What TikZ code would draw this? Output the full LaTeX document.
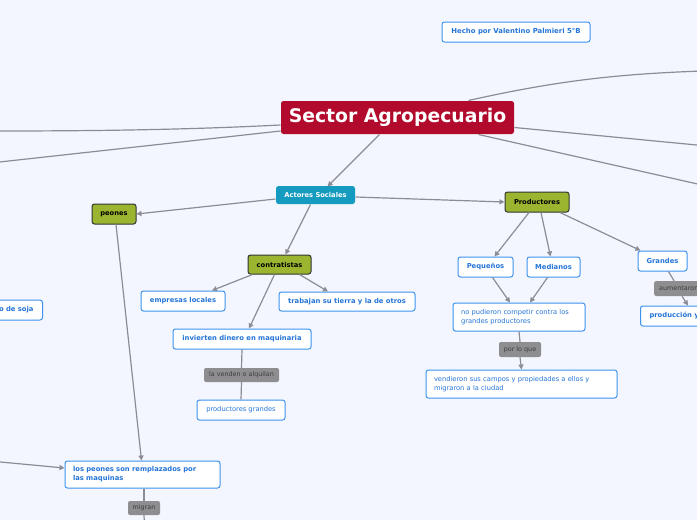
\documentclass[tikz,border=0pt]{standalone}
\usepackage{fontspec}
\setmainfont{DejaVu Sans}
\usetikzlibrary{arrows.meta}
\definecolor{bg}{HTML}{F3F6FE}
\definecolor{crim}{HTML}{B20A2C}
\definecolor{teal}{HTML}{169BC0}
\definecolor{olive}{HTML}{9BB531}
\definecolor{bordblue}{HTML}{3C92EE}
\definecolor{txtblue}{HTML}{2575D8}
\definecolor{lnk}{HTML}{8C8C94}
\definecolor{lblfill}{HTML}{8E8E90}
\definecolor{lbltxt}{HTML}{3C3C3C}
\begin{document}
\begin{tikzpicture}[x=1pt,y=-1pt,
  base/.style={inner sep=0pt, rounded corners=2.5pt, line width=1pt},
  topic/.style={base, draw=bordblue, fill=white, text=txtblue, font=\fontsize{6.8}{9}\selectfont\bfseries},
  plain/.style={base, draw=bordblue, fill=white, text=txtblue, font=\fontsize{6.7}{9}\selectfont},
  greenbox/.style={base, draw=black!80, fill=olive, text=black, font=\fontsize{6.7}{8}\selectfont\bfseries},
  lbl/.style={inner sep=0pt, rounded corners=2pt, fill=lblfill, text=lbltxt, font=\fontsize{6.4}{8}\selectfont},
  link/.style={draw=lnk, line width=1.2pt},
  arr/.style={link, -{Triangle[length=5pt,width=5pt]}}
]
\fill[bg] (0,0) rectangle (697,520);
\useasboundingbox (0,0) rectangle (697,520);

% nodes
\node[base, fill=crim, text=white, font=\fontsize{18.8}{22}\selectfont\bfseries, minimum width=233pt, minimum height=33pt] (title) at (397.5,117.5) {Sector Agropecuario};
\node[topic, font=\fontsize{6.9}{8}\selectfont\bfseries, minimum width=148pt, minimum height=20pt] (hecho) at (516,32) {Hecho por Valentino Palmieri 5°B};
\node[base, fill=teal, text=white, font=\fontsize{6.7}{8}\selectfont\bfseries, minimum width=79pt, minimum height=18pt] (actores) at (315.5,195) {Actores Sociales};
\node[greenbox, minimum width=64pt, minimum height=20pt] (productores) at (537,202) {Productores};
\node[greenbox, minimum width=44pt, minimum height=20pt] (peones) at (114,214) {peones};
\node[greenbox, minimum width=63pt, minimum height=19pt] (contratistas) at (279.5,264.5) {contratistas};
\node[topic, minimum width=84pt, minimum height=20pt] (empresas) at (183,301) {empresas locales};
\node[topic, minimum width=136pt, minimum height=19pt] (trabajan) at (347,301.5) {trabajan su tierra y la de otros};
\node[topic, minimum width=138pt, minimum height=20pt] (invierten) at (242,339) {invierten dinero en maquinaria};
\node[lbl, minimum width=75pt, minimum height=14pt] (venden) at (241.5,375) {la venden o alquilan};
\node[plain, minimum width=88pt, minimum height=20pt] (prodgrandes) at (241,410) {productores grandes};
\node[topic, minimum width=55pt, minimum height=20pt] (pequenos) at (485.5,267) {Pequeños};
\node[topic, minimum width=53pt, minimum height=20pt] (medianos) at (553.5,267) {Medianos};
\node[topic, minimum width=49pt, minimum height=20pt] (grandes) at (662.5,261) {Grandes};
\node[lbl, anchor=west, minimum height=15pt, align=left, text width=50pt, inner xsep=5pt] (aumentaron) at (654,288.5) {aumentaron};
\node[topic, anchor=west, minimum height=20pt, text width=72pt, align=left, inner xsep=9pt] (produccion) at (640,316) {producción y};
\node[plain, minimum width=132pt, minimum height=28pt, text width=116pt, align=left] (nopudieron) at (519,317) {no pudieron competir contra los\\grandes productores};
\node[lbl, minimum width=42pt, minimum height=15pt] (porloque) at (520,349.5) {por lo que};
\node[plain, minimum width=191pt, minimum height=28pt, text width=175pt, align=left] (vendieron) at (521.5,384) {vendieron sus campos y propiedades a ellos y\\migraron a la ciudad};
\node[topic, anchor=east, minimum height=20pt, text width=60pt, align=right, inner xsep=9pt] (soja) at (43,310) {o de soja};
\node[topic, minimum width=155pt, minimum height=27pt, text width=139pt, align=left] (lospeones) at (142.5,474.5) {los peones son remplazados por\\las maquinas};
\node[lbl, minimum width=32pt, minimum height=14pt] (migran) at (144,508) {migran};

% free ends
\coordinate (L1) at (-5,131);
\coordinate (L2) at (-5,162.5);
\coordinate (R1) at (702,71);
\coordinate (R2) at (702,145.5);
\coordinate (R3) at (702,185);
\coordinate (L3) at (-5,461.5);
\coordinate (B1) at (144.5,525);

% connectors
\draw[arr] ([xshift=-18pt]title.south) -- ([xshift=12pt,yshift=-1pt]actores.north);
\draw[link] ([yshift=-7.5pt]title.west) .. controls (200,129) and (120,131) .. (L1);
\draw[link] ([yshift=-13.5pt]title.west) -- (L2);
\draw[link] ([xshift=-46pt]title.north east) .. controls (560,80) and (620,74) .. (R1);
\draw[link] ([yshift=-10pt]title.east) -- (R2);
\draw[link] ([xshift=-36pt]title.south east) -- (R3);
\draw[arr] ([yshift=-4pt]actores.west) -- (peones.east);
\draw[arr] ([xshift=-5pt]actores.south) -- ([xshift=6pt]contratistas.north);
\draw[arr] ([yshift=-2pt]actores.east) -- (productores.west);
\draw[arr] ([xshift=2pt]peones.south) -- ([xshift=-1pt]lospeones.north);
\draw[arr] (L3) -- ([yshift=6.5pt]lospeones.west);
\draw[arr] ([xshift=-27pt]contratistas.south) -- ([xshift=29pt]empresas.north);
\draw[arr] ([xshift=20pt]contratistas.south) -- ([xshift=-19pt]trabajan.north);
\draw[arr] ([xshift=-5pt]contratistas.south) -- ([xshift=7pt]invierten.north);
\draw[link] (invierten.south) -- (venden.north);
\draw[link] (venden.south) -- (prodgrandes.north);
\draw[arr] ([xshift=-8pt]productores.south) -- ([xshift=9pt]pequenos.north);
\draw[arr] ([xshift=4pt]productores.south) -- ([xshift=-3pt]medianos.north);
\draw[arr] ([xshift=23pt]productores.south) -- ([xshift=-22pt]grandes.north);
\draw[arr] ([xshift=7pt]pequenos.south) -- ([xshift=-9pt]nopudieron.north);
\draw[arr] ([xshift=-6pt]medianos.south) -- ([xshift=11pt]nopudieron.north);
\draw[link] (nopudieron.south) -- (porloque.north);
\draw[arr] (porloque.south) -- (vendieron.north);
\draw[link] ([xshift=6pt]grandes.south) -- ([xshift=20pt]aumentaron.north west);
\draw[arr] ([xshift=28pt]aumentaron.south west) -- ([xshift=48pt]produccion.north west);
\draw[link] ([xshift=1.5pt]lospeones.south) -- (migran.north);
\draw[link] (migran.south) -- (B1);
\end{tikzpicture}
\end{document}
